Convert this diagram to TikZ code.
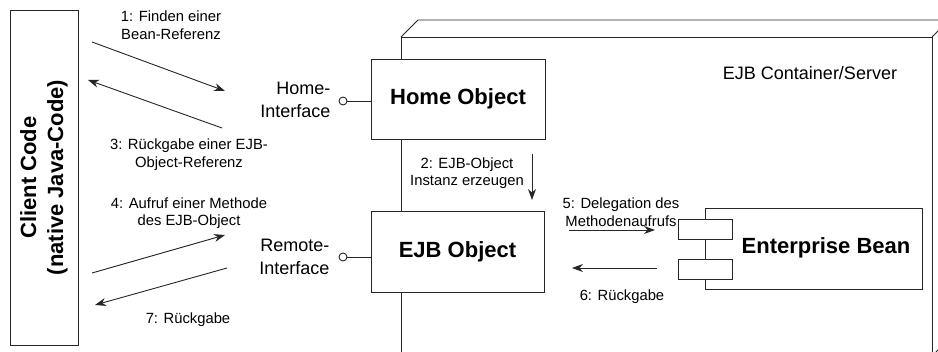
\documentclass[tikz,border=0pt]{standalone}
\usepackage{fontspec}
\setmainfont{Liberation Sans}
\usetikzlibrary{arrows.meta,calc}

\tikzset{
  line/.style={draw=black!85, line width=0.9pt},
  box/.style={line, fill=white, inner sep=0pt},
  bold/.style={font=\fontsize{22}{27}\selectfont\bfseries, align=center},
  lbl/.style={font=\fontsize{14.8}{17.5}\selectfont, align=center},
  iflbl/.style={font=\fontsize{18}{23}\selectfont, align=right, anchor=east},
  msg/.style={line, -{Stealth[length=11pt,width=8pt]}},
  port/.style={circle, line, fill=white, minimum size=8pt, inner sep=0pt},
}

\begin{document}
\begin{tikzpicture}[x=1pt, y=-1pt]
\useasboundingbox (0,0) rectangle (938,352);
\clip (0,0) rectangle (938,352);

% container drawn as a 3D node box
\draw[line] (401,356) -- (401,37) -- (932,37) -- (932,356);
\draw[line] (401,37) -- (418,20) -- (955,20);
\draw[line] (932,37) -- (949,20) -- (949,339) -- (932,356);
\node[font=\fontsize{18}{22}\selectfont] (contlbl) at (810,73) {EJB Container/Server};

% client
\node[box, minimum width=68pt, minimum height=335pt] (client) at (44,177.5) {};
\node[bold, rotate=90] (clienttxt) at (44,177.5) {Client Code\\(native Java-Code)};

% home object and EJB object
\node[box, bold, minimum width=174pt, minimum height=80pt] (home) at (458,99) {Home Object};
\node[box, bold, minimum width=173pt, minimum height=81pt] (ejb) at (457.5,251.5) {EJB Object};

% interfaces
\node[port] (homeif) at (343,101) {};
\node[port] (remoteif) at (343,257) {};
\draw[line] (homeif) -- (homeif -| home.west);
\draw[line] (remoteif) -- (remoteif -| ejb.west);
\node[iflbl] (homeiflbl) at (334,100) {Home-\\Interface};
\node[iflbl] (remoteiflbl) at (333,257) {Remote-\\Interface};

% enterprise bean component
\node[box, minimum width=217pt, minimum height=81pt] (bean) at (813.5,248.5) {};
\node[bold] (beantxt) at (826,248) {Enterprise Bean};
\node[box, minimum width=54pt, minimum height=20pt] (tabA) at (705,229) {};
\node[box, minimum width=54pt, minimum height=20pt] (tabB) at (705,269) {};

% message end points
\coordinate (m1s) at (92,42);   \coordinate (m1e) at (225,91);
\coordinate (m3s) at (222,128); \coordinate (m3e) at (88,80);
\coordinate (m4s) at (92,273);  \coordinate (m4e) at (225,235);
\coordinate (m7s) at (227,268); \coordinate (m7e) at (95,305);
\coordinate (m2s) at (532,154); \coordinate (m2e) at (532,200);
\coordinate (m5s) at (569,230); \coordinate (m5e) at (655,230);
\coordinate (m6s) at (657,268); \coordinate (m6e) at (572,268);

\draw[msg] (m1s) -- (m1e);
\draw[msg] (m3s) -- (m3e);
\draw[msg] (m4s) -- (m4e);
\draw[msg] (m7s) -- (m7e);
\draw[msg] (m2s) -- (m2e);
\draw[msg] (m5s) -- (m5e);
\draw[msg] (m6s) -- (m6e);

% message labels
\node[lbl] (l1) at (171,25) {1: Finden einer\\Bean-Referenz};
\node[lbl] (l3) at (189,154.5) {3: Rückgabe einer EJB-\\Object-Referenz};
\node[lbl] (l4) at (189,213) {4: Aufruf einer Methode\\des EJB-Object};
\node[lbl] (l7) at (188,320) {7: Rückgabe};
\node[lbl] (l2) at (467,173) {2: EJB-Object\\Instanz erzeugen};
\node[lbl] (l5) at (621,212) {5: Delegation des\\Methodenaufrufs};
\node[lbl] (l6) at (622,297) {6: Rückgabe};
\end{tikzpicture}
\end{document}
